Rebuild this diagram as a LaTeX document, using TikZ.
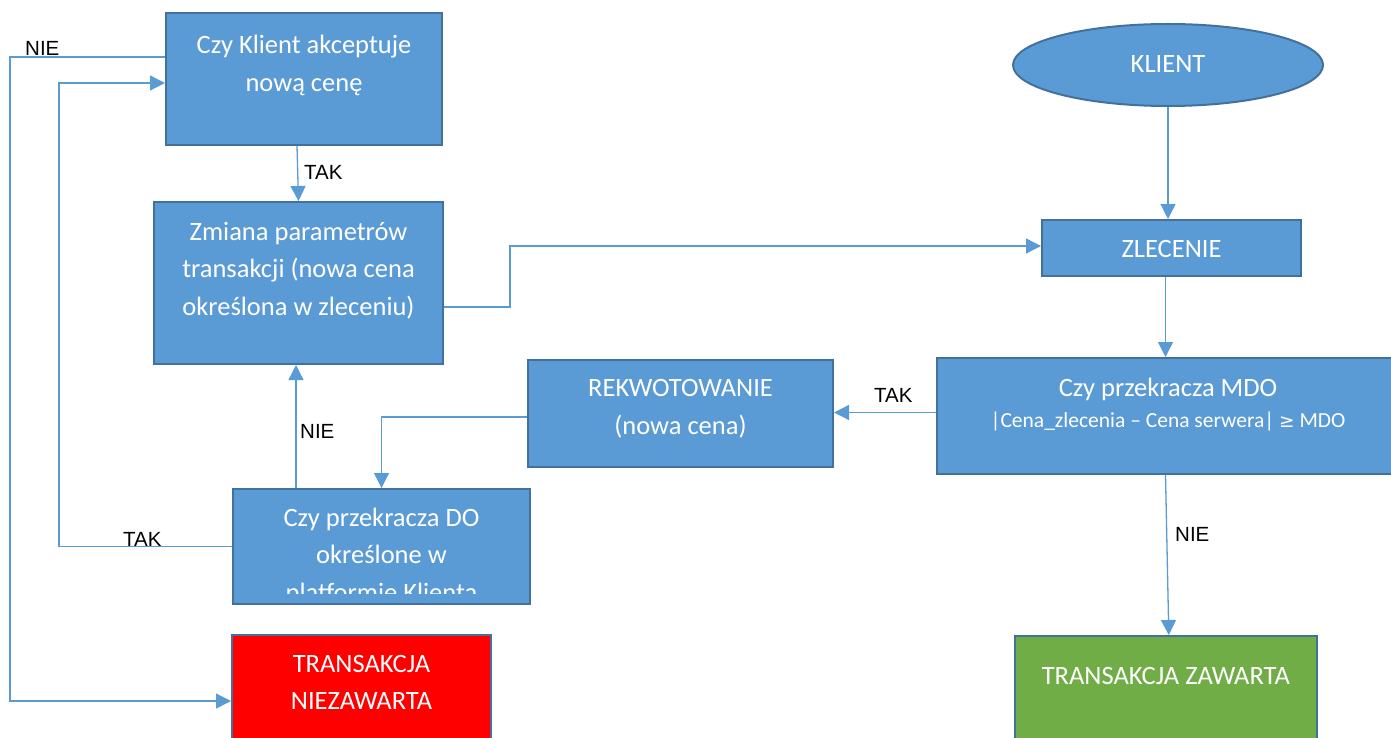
\documentclass[tikz,border=0pt]{standalone}
\usepackage{fontspec}
\setmainfont{Carlito}
\newfontfamily\arialfont{Liberation Sans}
\newfontfamily\symfont{DejaVu Sans}
\usetikzlibrary{shapes,arrows.meta,positioning}
\definecolor{boxblue}{RGB}{91,155,213}
\definecolor{edgeblue}{RGB}{65,113,156}
\definecolor{okgreen}{RGB}{112,173,71}
\definecolor{nored}{RGB}{255,0,0}

\begin{document}
\begin{tikzpicture}[
    x=1pt, y=-1pt,
    box/.style={rectangle, draw=edgeblue, line width=2pt, fill=boxblue, inner sep=0pt},
    oval/.style={ellipse, draw=edgeblue, line width=2pt, fill=boxblue, inner sep=0pt},
    boxtext/.style={text=white, font=\fontsize{26.5}{37.5}\selectfont, align=flush center, anchor=base, inner sep=0pt},
    arrow/.style={->, >={Triangle[length=15pt,width=15pt]}, line width=1.3pt, boxblue},
    answer/.style={font=\arialfont\fontsize{20.5}{24}\selectfont, anchor=base west, inner sep=0pt}
]

\clip (0,0) rectangle (1391,738);
\fill[white] (0,0) rectangle (1391,738);

% ------------------ Left column ------------------
\node[box, minimum width=276pt, minimum height=132pt] (accept) at (304,79) {};
\node[boxtext, text width=270pt] (accept-t) at (304,54) {Czy Klient akceptuje\\nową cenę};

\node[box, minimum width=289pt, minimum height=162pt] (zmiana) at (298.5,283) {};
\node[boxtext, text width=283pt] (zmiana-t) at (298.5,240) {Zmiana parametrów\\transakcji (nowa cena\\określona w zleceniu)};

\node[box, minimum width=297pt, minimum height=115pt] (do) at (381.5,546.5) {};
\begin{scope}
    \clip (236,491) rectangle (528,593);
    \node[boxtext, text width=290pt] (do-t) at (381.5,526) {Czy przekracza DO\\określone w\\platformie Klienta};
\end{scope}

\node[box, fill=nored, minimum width=259pt, minimum height=132pt] (niez) at (361.5,701) {};
\node[boxtext, text width=255pt] (niez-t) at (361.5,672) {TRANSAKCJA\\NIEZAWARTA};

% ------------------ Middle ------------------
\node[box, minimum width=305pt, minimum height=107pt] (rekwot) at (680.5,413.5) {};
\node[boxtext, text width=300pt] (rekwot-t) at (680.5,396.5) {REKWOTOWANIE\\(nowa cena)};

% ------------------ Right column ------------------
\node[oval, minimum width=310pt, minimum height=82pt] (klient) at (1168,65) {};
\node[boxtext] (klient-t) at (1168,73) {KLIENT};

\node[box, minimum width=259pt, minimum height=56pt] (zlecenie) at (1171.5,248) {};
\node[boxtext] (zlecenie-t) at (1171.5,257) {ZLECENIE};

\node[box, minimum width=462pt, minimum height=116pt] (mdo) at (1168,416) {};
\node[boxtext, text width=440pt] (mdo-t) at (1168,396) {Czy przekracza MDO\\[-6.5pt]
    {\fontsize{21.5}{26}\selectfont |Cena\_zlecenia – Cena serwera| {\symfont\fontsize{18.5}{26}\selectfont ≥} MDO}};

\node[box, fill=okgreen, minimum width=302pt, minimum height=132pt] (zawarta) at (1165.8,702) {};
\node[boxtext, text width=296pt] (zawarta-t) at (1165.8,684) {TRANSAKCJA ZAWARTA};

% ------------------ Arrows ------------------
\draw[arrow] ([yshift=22pt]accept.west) -- ++(-155,0) |- (niez.west);
\draw[arrow] (do.west) -- ++(-173,0) |- ([yshift=-4pt]accept.west);
\draw[arrow] ([xshift=-7pt]accept.south) -- (zmiana.north);
\draw[arrow] ([xshift=-85.5pt]do.north) -- ([xshift=-85.5pt]do.north |- zmiana.south);
\draw[arrow] ([yshift=-24pt]zmiana.east) -| (510,246) -- ([yshift=2pt]zlecenie.west);
\draw[arrow] (klient.south) -- (klient.south |- zlecenie.north);
\draw[arrow] ([xshift=-6pt]zlecenie.south) -- ([xshift=-6pt]zlecenie.south |- mdo.north);
\draw[arrow] ([yshift=3.5pt]mdo.west) -- ([yshift=3.5pt]mdo.west -| rekwot.east);
\draw[arrow] ([yshift=-3.5pt]rekwot.west) -| (do.north);
\draw[arrow] ([xshift=-2.5pt]mdo.south) -- ([xshift=3pt]zawarta.north);

% ------------------ Answers ------------------
\node[answer] (nie-accept) at (25,56) {NIE};
\node[answer] (tak-accept) at (304,180) {TAK};
\node[answer] (nie-do) at (300,438) {NIE};
\node[answer] (tak-do) at (123,546) {TAK};
\node[answer] (tak-mdo) at (874,402) {TAK};
\node[answer] (nie-mdo) at (1175,541) {NIE};

\end{tikzpicture}
\end{document}
